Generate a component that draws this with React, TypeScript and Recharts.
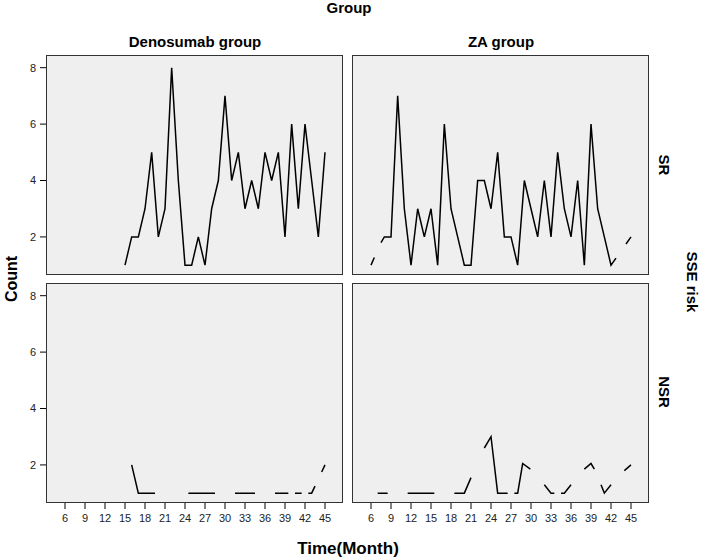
import { LineChart, Line, XAxis, YAxis } from 'recharts'

type Pt = [number, number]

// month tick labels and count ticks
const monthTicks = [6, 9, 12, 15, 18, 21, 24, 27, 30, 33, 36, 39, 42, 45]
const countTicks = [2, 4, 6, 8]

// visible pieces of each line, [month, count]
const denosumabSR: Pt[][] = [
  [[15, 1], [16, 2], [17, 2], [18, 3], [19, 5], [20, 2], [21, 3], [22, 8], [23, 4], [24, 1], [25, 1],
   [26, 2], [27, 1], [28, 3], [29, 4], [30, 7], [31, 4], [32, 5], [33, 3], [34, 4], [35, 3], [36, 5],
   [37, 4], [38, 5], [39, 2], [40, 6], [41, 3], [42, 6], [43, 4], [44, 2], [45, 5]],
]

const zaSR: Pt[][] = [
  [[6, 1], [6.5, 1.27]],
  [[7.5, 1.8], [8, 2], [9, 2], [10, 7], [11, 3], [12, 1], [13, 3], [14, 2], [15, 3], [16, 1], [17, 6],
   [18, 3], [19, 2], [20, 1], [21, 1], [22, 4], [23, 4], [24, 3], [25, 5], [26, 2], [27, 2], [28, 1],
   [29, 4], [30, 3], [31, 2], [32, 4], [33, 2], [34, 5], [35, 3], [36, 2], [37, 4], [38, 1], [39, 6],
   [40, 3], [41, 2], [42, 1], [42.75, 1.25]],
  [[44.25, 1.75], [45, 2]],
]

const denosumabNSR: Pt[][] = [
  [[16, 2], [17, 1], [18, 1], [19, 1], [19.5, 1]],
  [[24.5, 1], [25, 1], [26, 1], [27, 1], [28, 1], [28.5, 1]],
  [[31.5, 1], [32, 1], [33, 1], [34, 1], [34.5, 1]],
  [[37.5, 1], [38, 1], [39, 1], [39.5, 1]],
  [[40.5, 1], [41, 1], [41.5, 1]],
  [[42.5, 1], [43, 1], [43.5, 1.25]],
  [[44.5, 1.75], [45, 2]],
]

const zaNSR: Pt[][] = [
  [[7, 1], [8, 1], [8.5, 1]],
  [[11.5, 1], [12, 1], [13, 1], [14, 1], [15, 1], [15.5, 1]],
  [[18.5, 1], [19, 1], [20, 1], [21, 1.55]],
  [[23, 2.6], [24, 3], [25, 1], [26, 1], [26.5, 1]],
  [[27.5, 1], [28, 1], [28.75, 2.05], [29.9, 1.85]],
  [[32, 1.3], [33, 1], [33.5, 1]],
  [[34.5, 1], [35, 1], [36, 1.3]],
  [[38, 1.85], [39, 2.05], [39.5, 1.85]],
  [[40.5, 1.3], [41, 1], [42, 1.3]],
  [[44, 1.8], [45, 2]],
]

const xDomain: [number, number] = [3.15, 47.7]
const yDomain: [number, number] = [0.65, 8.45]

// pieces -> one data array, null between pieces so the line breaks
function toRows(pieces: Pt[][]) {
  const rows: { m: number; v: number | null }[] = []
  pieces.forEach((p, i) => {
    if (i > 0) rows.push({ m: (rows[rows.length - 1].m + p[0][0]) / 2, v: null })
    p.forEach(([m, v]) => rows.push({ m, v }))
  })
  return rows
}

const PLOT_W = 297
const PLOT_H = 220
const tickStyle = { fontSize: 11, fill: '#222' }

function Panel({ pieces, left, top, showY, showX }: {
  pieces: Pt[][]; left: number; top: number; showY: boolean; showX: boolean
}) {
  const yw = showY ? 46 : 0
  const xh = showX ? 30 : 0
  return (
    <>
      <div style={{
        position: 'absolute', left: left + yw, top, width: PLOT_W, height: PLOT_H,
        background: '#efefef', border: '1px solid #333', boxSizing: 'border-box',
      }} />
      <div style={{ position: 'absolute', left, top }}>
        <LineChart width={PLOT_W + yw} height={PLOT_H + xh} margin={{ top: 0, right: 0, bottom: 0, left: 0 }}>
          <XAxis
            type="number" dataKey="m" domain={xDomain} ticks={monthTicks} interval={0}
            allowDataOverflow hide={!showX} height={30} axisLine={false}
            tickSize={6} tickMargin={5} tickLine={{ stroke: '#000' }} tick={tickStyle}
          />
          <YAxis
            type="number" domain={yDomain} ticks={countTicks} allowDataOverflow hide={!showY}
            width={46} axisLine={false} tickSize={6} tickMargin={4}
            tickLine={{ stroke: '#000' }} tick={tickStyle}
          />
          <Line
            data={toRows(pieces)} dataKey="v" type="linear" stroke="#000" strokeWidth={1.5}
            dot={false} activeDot={false} connectNulls={false} isAnimationActive={false}
          />
        </LineChart>
      </div>
    </>
  )
}

export default function App() {
  const bold = { fontWeight: 700, fontSize: 15, fill: '#000' }
  return (
    <div style={{
      position: 'absolute', left: 0, top: 0, width: 704, height: 557, background: '#fff',
      fontFamily: '"Liberation Sans", Arial, sans-serif',
    }}>
      <Panel pieces={denosumabSR} left={0} top={55} showY showX={false} />
      <Panel pieces={zaSR} left={352} top={55} showY={false} showX={false} />
      <Panel pieces={denosumabNSR} left={0} top={283} showY showX />
      <Panel pieces={zaNSR} left={352} top={283} showY={false} showX />
      <svg width={704} height={557} style={{ position: 'absolute', left: 0, top: 0, pointerEvents: 'none' }}>
        <text x={349} y={13} textAnchor="middle" {...bold}>Group</text>
        <text x={195} y={47} textAnchor="middle" {...bold}>Denosumab group</text>
        <text x={501} y={47} textAnchor="middle" {...bold}>ZA group</text>
        <text x={0} y={0} transform="translate(17 279) rotate(-90)" textAnchor="middle" {...bold} fontSize={16}>Count</text>
        <text x={0} y={0} transform="translate(659 165) rotate(90)" textAnchor="middle" {...bold}>SR</text>
        <text x={0} y={0} transform="translate(659 392) rotate(90)" textAnchor="middle" {...bold}>NSR</text>
        <text x={0} y={0} transform="translate(687 282) rotate(90)" textAnchor="middle" {...bold}>SSE risk</text>
        <text x={348} y={554} textAnchor="middle" {...bold} fontSize={17}>Time(Month)</text>
      </svg>
    </div>
  )
}
